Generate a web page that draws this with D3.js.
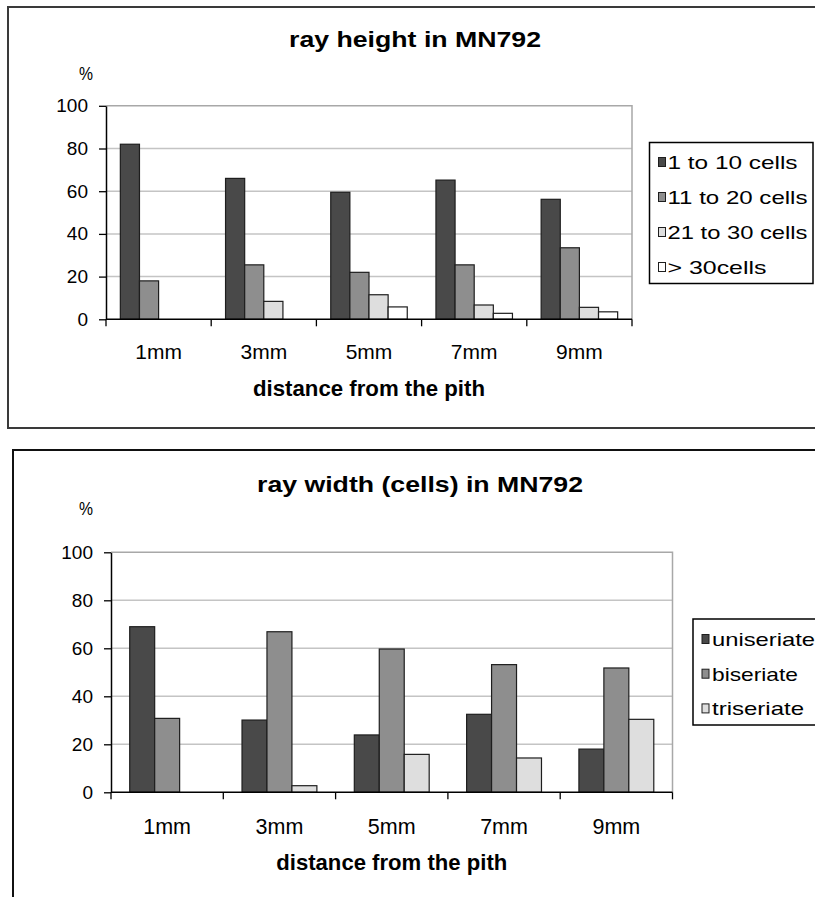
<!DOCTYPE html>
<html>
<head>
<meta charset="utf-8">
<script src="https://cdn.jsdelivr.net/npm/d3@7"></script>
<style>
  body { margin: 0; background: #fff; }
  svg { display: block; }
  text { font-family: "Liberation Sans", Arial, sans-serif; fill: #000; }
</style>
</head>
<body>
<svg id="chart" width="815" height="897"></svg>
<script>
// ---------- DATA ----------
const categories = ["1mm", "3mm", "5mm", "7mm", "9mm"];
const yTicks = [0, 20, 40, 60, 80, 100];

// Chart 1: ray height in MN792
const heightSeries = ["1 to 10 cells", "11 to 20 cells", "21 to 30 cells", "> 30cells"];
const height1to10 = [82, 66, 59.5, 65.2, 56.2];
const height11to20 = [18, 25.5, 22, 25.5, 33.5];
const height21to30 = [0, 8.4, 11.5, 6.7, 5.6];
const heightOver30 = [0, 0, 5.8, 2.8, 3.5];

// Chart 2: ray width (cells) in MN792
const widthSeries = ["uniseriate", "biseriate", "triseriate"];
const widthUni = [69, 30.1, 23.9, 32.5, 18];
const widthBi = [30.8, 66.9, 59.7, 53.2, 51.8];
const widthTri = [0, 2.75, 15.8, 14.3, 30.4];

// ---------- STYLE / LAYOUT ----------
const svg = d3.select("#chart");
const FONT = '"Liberation Sans", Arial, sans-serif';

function drawChart(cfg) {
  const g = svg.append("g");
  // outer frame
  g.append("rect")
    .attr("x", cfg.frame.x).attr("y", cfg.frame.y)
    .attr("width", cfg.frame.w).attr("height", cfg.frame.h)
    .attr("fill", "none").attr("stroke", cfg.frame.color).attr("stroke-width", 2);

  const x = d3.scaleBand().domain(cfg.categories).range([cfg.plot.x0, cfg.plot.x1]).paddingInner(0).paddingOuter(0);
  const xs = d3.scaleBand().domain(cfg.series).range([0, x.bandwidth()]).paddingInner(0).paddingOuter(0.75);
  const y = d3.scaleLinear().domain([0, 100]).range([cfg.plot.y0, cfg.plot.y1]);

  // gridlines
  g.append("g").selectAll("line").data(cfg.yTicks.filter(t => t > 0 && t < 100)).join("line")
    .attr("x1", cfg.plot.x0).attr("x2", cfg.plot.x1)
    .attr("y1", d => y(d)).attr("y2", d => y(d))
    .attr("stroke", "#c4c4c4").attr("stroke-width", 1.5);
  // plot border top & right
  g.append("path")
    .attr("d", `M${cfg.plot.x0},${y(100)}H${cfg.plot.x1}V${y(0)}`)
    .attr("fill", "none").attr("stroke", "#a8a8a8").attr("stroke-width", 1.5);

  // bars
  const rows = cfg.categories.map((c, i) => ({ c, vals: cfg.values.map((arr, j) => ({ s: cfg.series[j], v: arr[i], j })) }));
  g.append("g").selectAll("g").data(rows).join("g")
    .attr("transform", d => `translate(${x(d.c)},0)`)
    .selectAll("rect").data(d => d.vals).join("rect")
    .attr("x", d => xs(d.s)).attr("width", xs.bandwidth())
    .attr("y", d => y(d.v)).attr("height", d => y(0) - y(d.v))
    .attr("fill", d => cfg.colors[d.j])
    .attr("stroke", "#1e1e1e").attr("stroke-width", 1.2);

  // y axis
  const yAxis = d3.axisLeft(y).tickValues(cfg.yTicks).tickSize(7).tickPadding(11).tickSizeOuter(0);
  const ya = g.append("g").attr("transform", `translate(${cfg.plot.x0},0)`).call(yAxis);
  ya.select(".domain").attr("stroke", "#000").attr("stroke-width", 1.5);
  ya.selectAll(".tick line").attr("stroke", "#000").attr("stroke-width", 1.3);
  ya.selectAll(".tick text").attr("font-family", FONT).attr("font-size", 19).attr("fill", "#000");

  // x axis: line + boundary ticks
  g.append("line").attr("x1", cfg.plot.x0).attr("x2", cfg.plot.x1)
    .attr("y1", y(0)).attr("y2", y(0)).attr("stroke", "#000").attr("stroke-width", 1.5);
  const bounds = cfg.categories.map(c => x(c)).concat([x(cfg.categories[cfg.categories.length - 1]) + x.bandwidth()]);
  g.append("g").selectAll("line").data(bounds).join("line")
    .attr("x1", d => d).attr("x2", d => d)
    .attr("y1", y(0)).attr("y2", y(0) + 7)
    .attr("stroke", "#000").attr("stroke-width", 1.3);
  // x labels
  g.append("g").selectAll("text").data(cfg.categories).join("text")
    .attr("x", d => x(d) + x.bandwidth() / 2).attr("y", cfg.xlabY)
    .attr("text-anchor", "middle").attr("font-size", cfg.xlabSize).text(d => d);

  // x title
  g.append("text").attr("x", (cfg.plot.x0 + cfg.plot.x1) / 2).attr("y", cfg.xtitleY)
    .attr("text-anchor", "middle").attr("font-size", 22).attr("font-weight", "bold")
    .attr("textLength", cfg.xtitleW).attr("lengthAdjust", "spacingAndGlyphs")
    .text("distance from the pith");

  // title
  g.append("text").attr("x", cfg.title.x).attr("y", cfg.title.y)
    .attr("text-anchor", "middle").attr("font-size", 22).attr("font-weight", "bold")
    .attr("textLength", cfg.title.w).attr("lengthAdjust", "spacingAndGlyphs")
    .text(cfg.title.text);

  // % label
  g.append("text").attr("x", cfg.pct.x).attr("y", cfg.pct.y)
    .attr("text-anchor", "middle").attr("font-size", 19)
    .attr("textLength", 14).attr("lengthAdjust", "spacingAndGlyphs").text("%");

  // legend
  const L = cfg.legend;
  g.append("rect").attr("x", L.x).attr("y", L.y).attr("width", L.w).attr("height", L.h)
    .attr("fill", "#fff").attr("stroke", "#000").attr("stroke-width", 1.5);
  const items = g.append("g").selectAll("g").data(cfg.series).join("g")
    .attr("transform", (d, i) => `translate(${L.x + 9},${L.itemY0 + i * L.step})`);
  items.append("rect").attr("x", 0).attr("y", -4.5).attr("width", 7).attr("height", 9)
    .attr("fill", (d, i) => cfg.colors[i]).attr("stroke", "#1e1e1e").attr("stroke-width", 1);
  items.append("text").attr("x", L.textDx).attr("y", 7).attr("font-size", 19)
    .attr("textLength", (d, i) => L.textW[i]).attr("lengthAdjust", "spacingAndGlyphs")
    .text(d => d);
}

drawChart({
  categories, series: heightSeries, yTicks,
  values: [height1to10, height11to20, height21to30, heightOver30],
  colors: ["#494949", "#8e8e8e", "#dedede", "#ffffff"],
  frame: { x: 8, y: 7, w: 830, h: 421, color: "#3a3a3a" },
  plot: { x0: 106, x1: 632, y0: 319.3, y1: 105.8 },
  title: { x: 415, y: 47, w: 252, text: "ray height in MN792" },
  pct: { x: 86, y: 80 },
  xlabY: 359, xlabSize: 21, xtitleY: 396, xtitleW: 232,
  legend: { x: 649.5, y: 142.5, w: 163.5, h: 141, itemY0: 162, step: 35, textDx: 9, textW: [130, 140, 140, 99] }
});

drawChart({
  categories, series: widthSeries, yTicks,
  values: [widthUni, widthBi, widthTri],
  colors: ["#494949", "#8e8e8e", "#dedede"],
  frame: { x: 13, y: 450, w: 830, h: 470, color: "#111" },
  plot: { x0: 111, x1: 672.5, y0: 792.3, y1: 552.3 },
  title: { x: 420, y: 492, w: 326, text: "ray width (cells) in MN792" },
  pct: { x: 86, y: 515 },
  xlabY: 834, xlabSize: 21.5, xtitleY: 870, xtitleW: 231,
  legend: { x: 693, y: 619, w: 140, h: 106, itemY0: 639, step: 34.7, textDx: 10, textW: [103, 86, 92] }
});
</script>
</body>
</html>
